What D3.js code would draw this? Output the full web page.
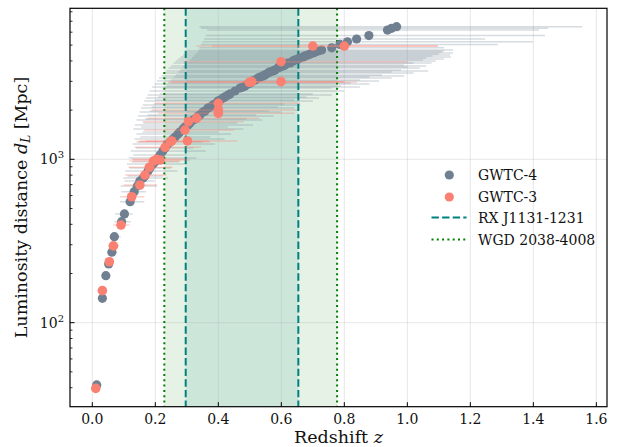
<!DOCTYPE html>
<html><head><meta charset="utf-8">
<script src="https://cdn.jsdelivr.net/npm/d3@7"></script>
<style>body{margin:0;background:#fff}text{font-family:"DejaVu Serif",serif;fill:#111}</style>
</head><body><svg id="c" width="618" height="447"></svg>
<script>
// ---- data ----
const gw4Z  = [0.014,0.032,0.043,0.052,0.062,0.070,0.093,0.102,0.120,0.133,0.143,0.151,0.161,0.167,0.177,0.183,0.193,0.199,0.209,0.215,0.224,0.231,0.240,0.247,0.256,0.263,0.272,0.278,0.288,0.294,0.304,0.310,0.320,0.326,0.336,0.342,0.351,0.358,0.367,0.374,0.383,0.390,0.399,0.406,0.415,0.421,0.431,0.437,0.453,0.469,0.478,0.485,0.494,0.501,0.510,0.517,0.526,0.533,0.542,0.548,0.558,0.564,0.574,0.580,0.589,0.596,0.605,0.612,0.621,0.628,0.637,0.644,0.653,0.659,0.669,0.675,0.685,0.691,0.701,0.707,0.717,0.728,0.760,0.786,0.810,0.839,0.878,0.937,0.950,0.966];
const gw4DL = [41.6,141,194,229,270,336,415,463,550,634,687,736,769,791,848,884,936,965,1018,1062,1124,1173,1241,1276,1331,1369,1428,1469,1532,1576,1621,1667,1739,1764,1840,1866,1947,1975,2060,2089,2149,2180,2274,2307,2373,2407,2475,2511,2618,2731,2770,2809,2890,2932,3016,3057,3146,3190,3236,3283,3377,3426,3473,3520,3624,3676,3726,3777,3886,3886,3998,4055,4113,4170,4230,4290,4349,4410,4472,4535,4600,4665,4812,5050,5240,5448,5720,6180,6330,6480];
const gw4ZLo = [0.011,0.025,0.035,0.041,0.049,0.054,0.070,0.072,0.088,0.092,0.090,0.102,0.098,0.112,0.104,0.118,0.110,0.126,0.116,0.130,0.122,0.138,0.128,0.146,0.134,0.152,0.140,0.160,0.130,0.155,0.135,0.162,0.140,0.168,0.145,0.175,0.150,0.182,0.155,0.188,0.160,0.195,0.165,0.200,0.170,0.208,0.175,0.214,0.182,0.225,0.190,0.235,0.198,0.242,0.205,0.250,0.212,0.258,0.220,0.265,0.228,0.272,0.235,0.280,0.242,0.288,0.250,0.295,0.258,0.302,0.265,0.310,0.272,0.316,0.280,0.322,0.288,0.328,0.295,0.334,0.300,0.338,0.340,0.345,0.350,0.355,0.360,0.365,0.345,0.340];
const gw4ZHi = [0.018,0.040,0.053,0.066,0.080,0.090,0.122,0.128,0.165,0.170,0.205,0.198,0.240,0.225,0.270,0.250,0.300,0.275,0.330,0.300,0.360,0.320,0.390,0.350,0.420,0.375,0.440,0.400,0.480,0.430,0.510,0.460,0.540,0.490,0.575,0.520,0.600,0.560,0.640,0.590,0.660,0.610,0.700,0.640,0.720,0.680,0.760,0.700,0.800,0.760,0.850,0.790,0.880,0.820,0.910,0.850,0.950,0.880,0.990,0.920,1.020,0.950,1.066,0.980,1.040,1.000,1.060,0.990,1.077,1.020,1.090,1.050,1.117,1.060,1.138,1.080,1.136,1.100,1.145,1.110,1.117,1.145,1.117,1.287,1.398,1.247,1.437,1.418,1.447,1.555];

const gw3Z  = [0.011,0.032,0.054,0.067,0.091,0.125,0.151,0.167,0.181,0.194,0.204,0.215,0.231,0.249,0.252,0.294,0.302,0.305,0.331,0.400,0.400,0.400,0.498,0.506,0.599,0.599,0.700,0.800];
const gw3DL = [39.6,157,236,295,396,590,696,801,894,976,1000,990,1184,1282,1295,1510,1295,1700,1782,2202,2003,1912,2960,2987,2987,3957,4935,4935];
const gw3ZLo = [0.008,0.024,0.042,0.050,0.066,0.088,0.100,0.105,0.115,0.118,0.125,0.130,0.135,0.140,0.150,0.165,0.170,0.160,0.175,0.200,0.190,0.210,0.250,0.240,0.300,0.290,0.330,0.380];
const gw3ZHi = [0.014,0.040,0.066,0.085,0.118,0.165,0.205,0.235,0.255,0.280,0.295,0.310,0.345,0.375,0.370,0.450,0.460,0.480,0.530,0.660,0.650,0.640,0.840,0.800,0.796,1.000,1.097,1.097];

const xTicks = [0,0.2,0.4,0.6,0.8,1.0,1.2,1.4,1.6];
const xTickLabels = ["0.0","0.2","0.4","0.6","0.8","1.0","1.2","1.4","1.6"];
const yTicks = [100,1000];
const yTickExp = ["2","3"];
const yMinorTicks = [40,50,60,70,80,90,200,300,400,500,600,700,800,900,2000,3000,4000,5000,6000,7000,8000];
const rxRange = [0.2965,0.654];
const wgdRange = [0.2286,0.777];
const legendLabels = ["GWTC-4","GWTC-3","RX J1131-1231","WGD 2038-4008"];

// ---- chart ----
const L=70,R=607,T=8.3,B=406.7;
const svg=d3.select("#c");
svg.append("rect").attr("width",618).attr("height",447).attr("fill","#fff");
const x=d3.scaleLinear().domain([-0.0708,1.6338]).range([L,R]);
const y=d3.scaleLog().domain([30.6,8399]).range([B,T]);
svg.append("defs").append("clipPath").attr("id","clip").append("rect").attr("x",L).attr("y",T).attr("width",R-L).attr("height",B-T);
const g=svg.append("g").attr("clip-path","url(#clip)");

// spans
g.append("rect").attr("x",x(wgdRange[0])).attr("width",x(wgdRange[1])-x(wgdRange[0])).attr("y",T).attr("height",B-T).attr("fill","green").attr("fill-opacity",0.1);
g.append("rect").attr("x",x(rxRange[0])).attr("width",x(rxRange[1])-x(rxRange[0])).attr("y",T).attr("height",B-T).attr("fill","teal").attr("fill-opacity",0.1);

// grid
g.selectAll(".gx").data(xTicks).join("line").attr("x1",d=>x(d)).attr("x2",d=>x(d)).attr("y1",T).attr("y2",B).attr("stroke","#b0b0b0").attr("stroke-opacity",0.3).attr("stroke-width",1);
g.selectAll(".gy").data(yTicks).join("line").attr("y1",d=>y(d)).attr("y2",d=>y(d)).attr("x1",L).attr("x2",R).attr("stroke","#b0b0b0").attr("stroke-opacity",0.3).attr("stroke-width",1);

// error bars
const d4=gw4Z.map((z,i)=>({z,dl:gw4DL[i],lo:gw4ZLo[i],hi:gw4ZHi[i]}));
const d3s=gw3Z.map((z,i)=>({z,dl:gw3DL[i],lo:gw3ZLo[i],hi:gw3ZHi[i]}));
g.append("g").selectAll("line").data(d4).join("line").attr("x1",d=>x(d.lo)).attr("x2",d=>x(d.hi)).attr("y1",d=>y(d.dl)).attr("y2",d=>y(d.dl)).attr("stroke","slategray").attr("stroke-opacity",0.28).attr("stroke-width",1.5);

// vertical lines
[[rxRange,"teal","7.4,3.2"],[wgdRange,"green","2,3.3"]].forEach(([r,c,da])=>{
  r.forEach(v=>g.append("line").attr("x1",x(v)).attr("x2",x(v)).attr("y1",T).attr("y2",B).attr("stroke",c).attr("stroke-width",2).attr("stroke-dasharray",da));
});

g.append("g").selectAll("circle").data(d4).join("circle").attr("cx",d=>x(d.z)).attr("cy",d=>y(d.dl)).attr("r",4.6).attr("fill","slategray");
g.append("g").selectAll("line").data(d3s).join("line").attr("x1",d=>x(d.lo)).attr("x2",d=>x(d.hi)).attr("y1",d=>y(d.dl)).attr("y2",d=>y(d.dl)).attr("stroke","salmon").attr("stroke-opacity",0.35).attr("stroke-width",1.5);
g.append("g").selectAll("circle").data(d3s).join("circle").attr("cx",d=>x(d.z)).attr("cy",d=>y(d.dl)).attr("r",4.8).attr("fill","salmon");

// axes frame
svg.append("rect").attr("x",L).attr("y",T).attr("width",R-L).attr("height",B-T).attr("fill","none").attr("stroke","#000").attr("stroke-width",1.2);

// ticks
svg.selectAll(".xt").data(xTicks).join("line").attr("x1",d=>x(d)).attr("x2",d=>x(d)).attr("y1",B).attr("y2",B-4.5).attr("stroke","#000").attr("stroke-width",1);
svg.selectAll(".xl").data(xTicks).join("text").attr("x",d=>x(d)).attr("y",424).attr("text-anchor","middle").attr("font-size",14).text((d,i)=>xTickLabels[i]);
svg.selectAll(".yt").data(yTicks).join("line").attr("y1",d=>y(d)).attr("y2",d=>y(d)).attr("x1",L).attr("x2",L+4.5).attr("stroke","#000").attr("stroke-width",1);
svg.selectAll(".ym").data(yMinorTicks).join("line").attr("y1",d=>y(d)).attr("y2",d=>y(d)).attr("x1",L).attr("x2",L+2.5).attr("stroke","#000").attr("stroke-width",0.8);
yTicks.forEach((v,i)=>{
  const t=svg.append("text").attr("x",64).attr("y",y(v)+5).attr("text-anchor","end").attr("font-size",14);
  t.append("tspan").text("10");
  t.append("tspan").attr("dy",-6).attr("font-size",10).text(yTickExp[i]);
});

// axis labels
const xl=svg.append("text").attr("x",(L+R)/2).attr("y",443).attr("text-anchor","middle").attr("font-size",17.5);
xl.append("tspan").text("Redshift ");
xl.append("tspan").attr("font-style","italic").text("z");
const yl=svg.append("text").attr("transform",`translate(27,${(T+B)/2}) rotate(-90)`).attr("text-anchor","middle").attr("font-size",17.5);
yl.append("tspan").text("Luminosity distance ");
yl.append("tspan").attr("font-style","italic").text("d");
yl.append("tspan").attr("font-style","italic").attr("font-size",12).attr("dy",3).text("L");
yl.append("tspan").attr("dy",-3).text(" [Mpc]");

// legend
const lg=svg.append("g");
const ly=[175,197,217.5,239.5];
lg.append("circle").attr("cx",449.3).attr("cy",ly[0]).attr("r",4.6).attr("fill","slategray");
lg.append("circle").attr("cx",449.3).attr("cy",ly[1]).attr("r",4.6).attr("fill","salmon");
lg.append("line").attr("x1",431.5).attr("x2",466.5).attr("y1",ly[2]).attr("y2",ly[2]).attr("stroke","teal").attr("stroke-width",2).attr("stroke-dasharray","7.4,3.2");
lg.append("line").attr("x1",431.5).attr("x2",466.5).attr("y1",ly[3]).attr("y2",ly[3]).attr("stroke","green").attr("stroke-width",2).attr("stroke-dasharray","2,3.3");
legendLabels.forEach((s,i)=>lg.append("text").attr("x",478).attr("y",ly[i]+5).attr("font-size",14).text(s));
</script></body></html>
